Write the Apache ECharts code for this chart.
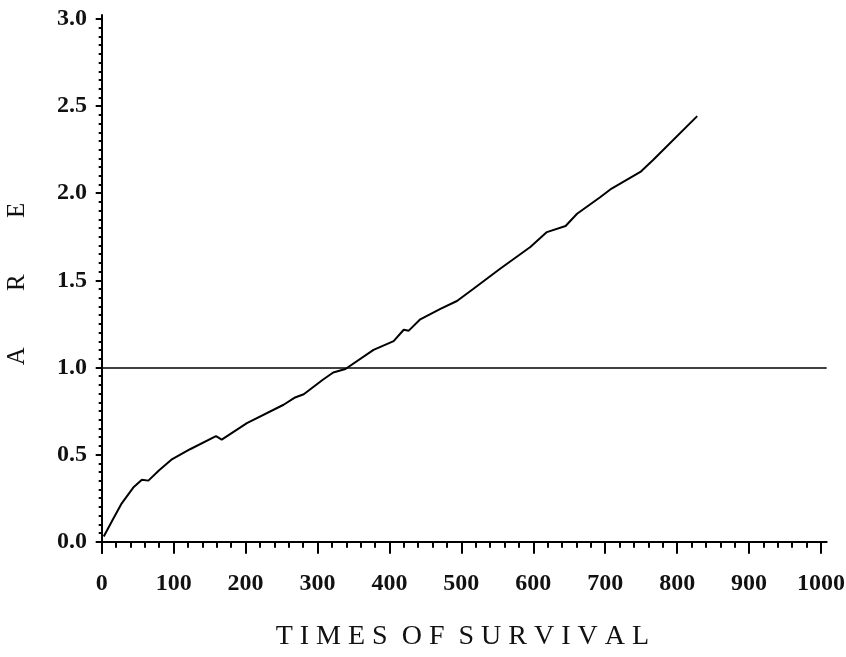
<!DOCTYPE html>
<html>
<head>
<meta charset="utf-8">
<script src="https://cdn.jsdelivr.net/npm/echarts@6/dist/echarts.min.js"></script>
<style>html,body{margin:0;padding:0;background:#fff}#c{width:846px;height:657px}</style>
</head>
<body>
<div id="c"></div>
<script>
// Survival time (x) and ARE values (y)
const timeValues = [3, 16, 28, 44, 56, 65, 80, 97, 123, 159, 167, 202, 253, 268, 281, 308, 322, 339, 378, 406, 420, 427, 443, 471, 494, 517, 554, 596, 619, 645, 661, 693, 709, 749, 767, 828];
const areValues  = [0.03, 0.13, 0.22, 0.31, 0.355, 0.35, 0.41, 0.47, 0.53, 0.605, 0.585, 0.68, 0.785, 0.825, 0.845, 0.93, 0.97, 0.99, 1.10, 1.15, 1.215, 1.21, 1.275, 1.335, 1.38, 1.45, 1.565, 1.69, 1.775, 1.81, 1.88, 1.975, 2.025, 2.12, 2.19, 2.44];
const referenceLevel = 1.0;
const xTicks = [0, 1000, 100];   // min, max, interval
const yTicks = [0, 3, 0.5];
const xTitle = 'T I M E S  O F  S U R V I V A L';
const yTitle = 'A         R         E';

const curve = timeValues.map((t, i) => [t, areValues[i]]);
const serif = '"Liberation Serif", "DejaVu Serif", serif';

const chart = echarts.init(document.getElementById('c'), null, {renderer: 'canvas'});
chart.setOption({
  animation: false,
  backgroundColor: '#fff',
  grid: [
    {left: 98, right: 19.3, top: 15, bottom: 104, containLabel: false, outerBoundsMode: 'none'},
    {left: 101.7, right: 25, top: 19, bottom: 115.3, containLabel: false, outerBoundsMode: 'none'}
  ],
  xAxis: [
    {
      gridIndex: 0, type: 'value', min: -5, max: 1008,
      axisLine: {show: true, lineStyle: {color: '#000', width: 2}},
      axisTick: {show: false}, axisLabel: {show: false}, splitLine: {show: false},
      name: xTitle, nameLocation: 'middle', nameGap: 70,
      nameTextStyle: {fontFamily: serif, fontSize: 28, color: '#111'}
    },
    {
      gridIndex: 1, type: 'value', min: xTicks[0], max: xTicks[1], interval: xTicks[2],
      offset: 11.3,
      axisLine: {show: false},
      axisTick: {show: true, inside: false, length: 12, lineStyle: {color: '#000', width: 2}},
      minorTick: {show: true, splitNumber: 5, length: 6, lineStyle: {color: '#000', width: 2}},
      splitLine: {show: false},
      axisLabel: {margin: 19, fontFamily: serif, fontSize: 24, fontWeight: 'bold', color: '#111',
        formatter: v => String(v)}
    }
  ],
  yAxis: [
    {
      gridIndex: 0, type: 'value', min: -0.065, max: 3.02,
      axisLine: {show: true, lineStyle: {color: '#000', width: 2}},
      axisTick: {show: false}, axisLabel: {show: false}, splitLine: {show: false},
      name: yTitle, nameLocation: 'middle', nameGap: 68, nameRotate: 90,
      nameTextStyle: {fontFamily: serif, fontSize: 25, color: '#111'}
    },
    {
      gridIndex: 1, type: 'value', min: yTicks[0], max: yTicks[1], interval: yTicks[2],
      offset: 3.7,
      axisLine: {show: false},
      axisTick: {show: true, inside: false, length: 6, lineStyle: {color: '#000', width: 2}},
      minorTick: {show: true, splitNumber: 10, length: 3, lineStyle: {color: '#000', width: 2}},
      splitLine: {show: false},
      axisLabel: {margin: 11, fontFamily: serif, fontSize: 24, fontWeight: 'bold', color: '#111',
        formatter: v => v.toFixed(1)}
    }
  ],
  series: [
    {
      type: 'line', xAxisIndex: 0, yAxisIndex: 0, data: curve,
      showSymbol: false, symbol: 'none', smooth: false,
      lineStyle: {color: '#000', width: 2},
      markLine: {
        silent: true, symbol: 'none', label: {show: false},
        lineStyle: {color: '#000', width: 1.6, type: 'solid'},
        data: [{yAxis: referenceLevel}]
      }
    }
  ]
});
</script>
</body>
</html>
